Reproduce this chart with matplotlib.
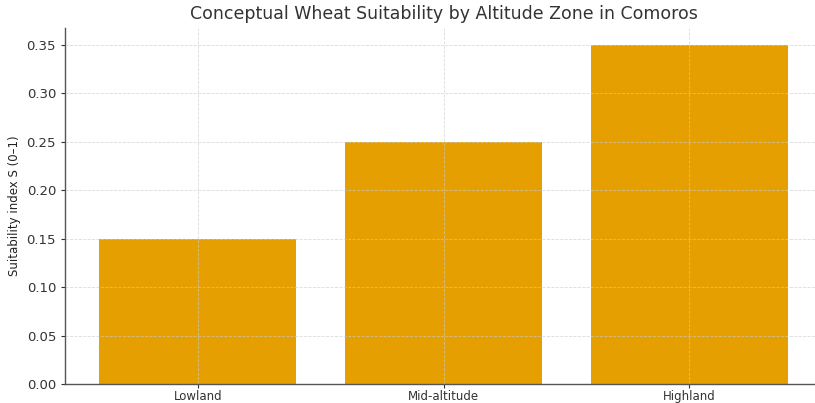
import matplotlib
matplotlib.use("Agg")
import matplotlib.pyplot as plt

zones = ["Lowland", "Mid-altitude", "Highland"]
suitability = [0.15, 0.25, 0.35]
yticks = [0.00, 0.05, 0.10, 0.15, 0.20, 0.25, 0.30, 0.35]

fig = plt.figure(figsize=(8.15, 4.03), dpi=100)
ax = fig.add_axes([0.0798, 0.046, 0.929, 0.885])

ax.bar(zones, suitability, width=0.8, color="#E69F00")
ax.set_ylim(0, 0.35 * 1.05)
ax.set_xlim(-0.54, 2.54)
ax.set_yticks(yticks)
ax.set_yticklabels([f"{v:.2f}" for v in yticks])

ax.grid(True, linestyle="--", linewidth=0.6, color="#cccccc", alpha=0.7)
for s in ["top", "right"]:
    ax.spines[s].set_visible(False)
for s in ["left", "bottom"]:
    ax.spines[s].set_color("#555555")
    ax.spines[s].set_linewidth(1.0)

ax.tick_params(axis="both", colors="#333333", labelsize=9.5, length=3)
ax.tick_params(axis="x", labelsize=8.5, pad=1)
ax.set_ylabel("Suitability index S (0–1)", fontsize=8.5, color="#222222")
ax.set_title("Conceptual Wheat Suitability by Altitude Zone in Comoros",
             fontsize=12.5, color="#333333", pad=6)

fig.savefig("out.png", dpi=100)
